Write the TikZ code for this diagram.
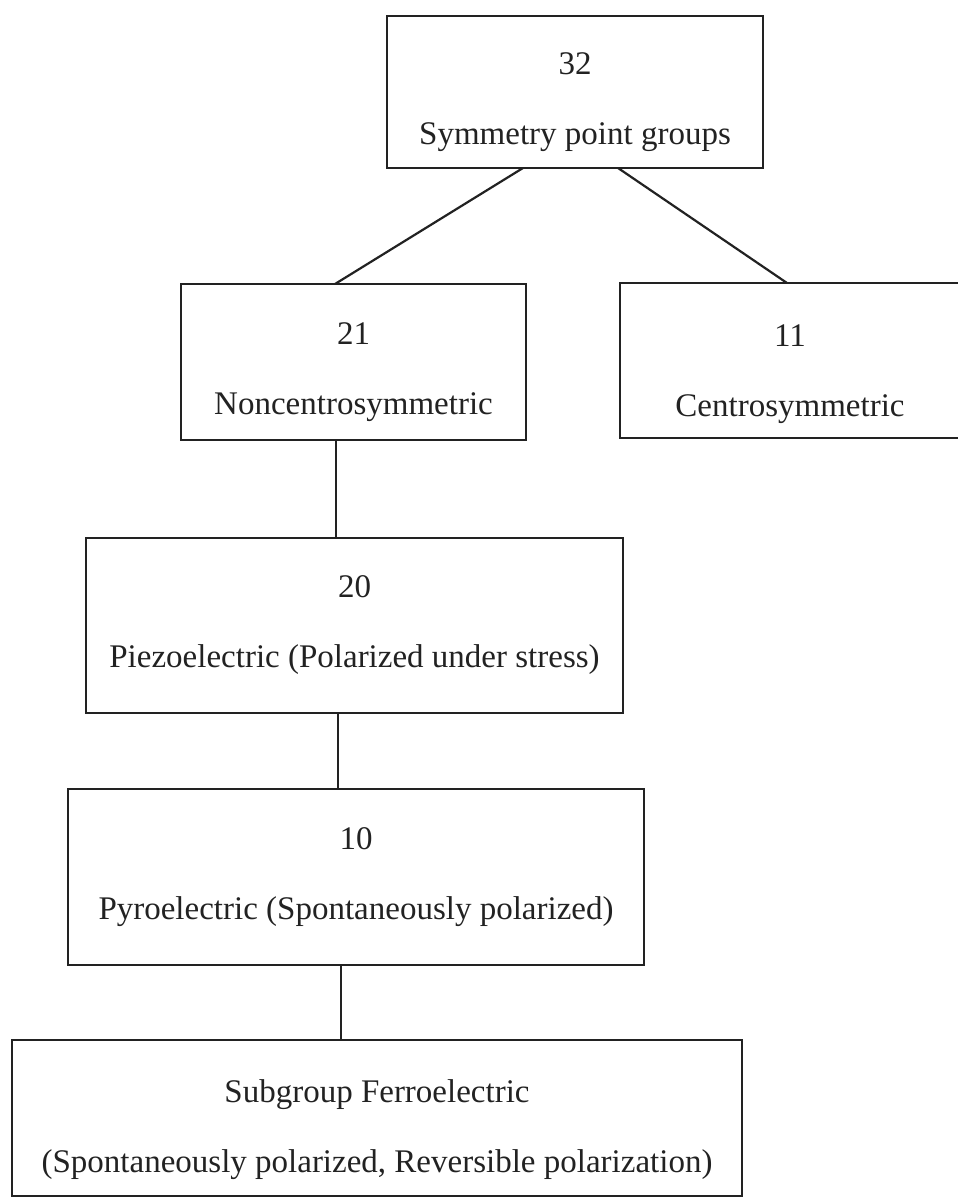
\documentclass[tikz,border=0pt]{standalone}
\usepackage{fontspec}
\setmainfont{Liberation Serif}
\definecolor{ink}{HTML}{222222}
\newcommand{\lift}[1]{\rule{0pt}{#1}}
\begin{document}
\begin{tikzpicture}[x=1pt,y=-1pt,
  box/.style={draw=ink,line width=2.2pt,inner sep=0pt,outer sep=0pt,align=center,
    text=ink,font=\fontsize{33}{70}\selectfont},
  link/.style={draw=ink,line width=2.2pt}]
\useasboundingbox (0,0) rectangle (958,1199);
\node[box,minimum width=376pt,minimum height=152pt] (top) at (575,92) {\lift{41.5pt}32\\Symmetry point groups};
\node[box,minimum width=345pt,minimum height=156pt] (n21) at (353.5,362) {\lift{42.5pt}21\\Noncentrosymmetric};
\node[box,minimum width=340pt,minimum height=155pt] (n11) at (790,360.5) {\lift{48.5pt}11\\Centrosymmetric};
\node[box,minimum width=537pt,minimum height=175pt] (n20) at (354.5,625.5) {20\\Piezoelectric (Polarized under stress)};
\node[box,minimum width=576pt,minimum height=176pt] (n10) at (356,877) {10\\Pyroelectric (Spontaneously polarized)};
\node[box,minimum width=730pt,minimum height=156pt] (nb) at (377,1118) {\lift{46.5pt}Subgroup Ferroelectric\\(Spontaneously polarized, Reversible polarization)};
\draw[link] ([xshift=-52pt]top.south) -- ([xshift=-18.5pt]n21.north);
\draw[link] ([xshift=43pt]top.south) -- ([xshift=-3pt]n11.north);
\draw[link] ([xshift=-17.5pt]n21.south) -- ([xshift=-18.5pt]n20.north);
\draw[link] ([xshift=-16.5pt]n20.south) -- ([xshift=-18pt]n10.north);
\draw[link] ([xshift=-15pt]n10.south) -- ([xshift=-36pt]nb.north);
\end{tikzpicture}
\end{document}
